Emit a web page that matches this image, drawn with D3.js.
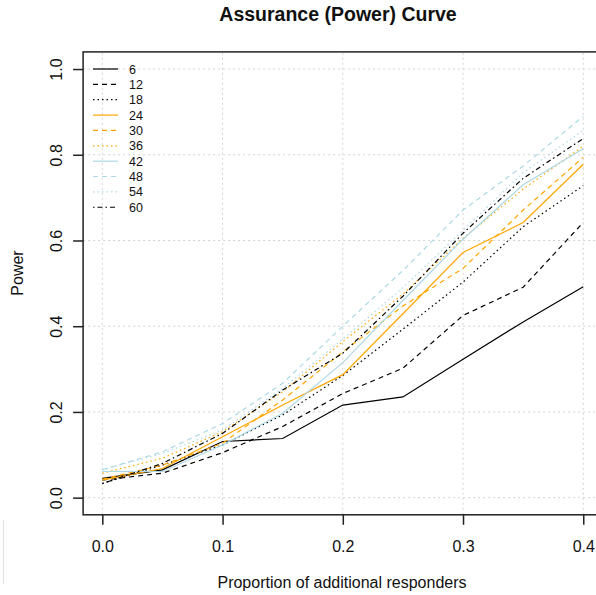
<!DOCTYPE html>
<html>
<head>
<meta charset="utf-8">
<script src="https://cdn.jsdelivr.net/npm/d3@7"></script>
<style>
  html, body { margin: 0; padding: 0; background: #fff; }
  svg { display: block; font-family: "Liberation Sans", Arial, sans-serif; }
</style>
</head>
<body>
<svg id="chart" width="596" height="595"></svg>
<script>
// Proportion of additional responders (x) and power per sample size
const proportions = [0, 0.05, 0.10, 0.15, 0.20, 0.25, 0.30, 0.35, 0.40];
const sampleSizes = ["6", "12", "18", "24", "30", "36", "42", "48", "54", "60"];
const power6  = [0.045, 0.065, 0.131, 0.138, 0.216, 0.235, 0.323, 0.410, 0.492];
const power12 = [0.041, 0.057, 0.105, 0.166, 0.243, 0.302, 0.425, 0.491, 0.642];
const power18 = [0.033, 0.076, 0.123, 0.193, 0.285, 0.393, 0.503, 0.632, 0.728];
const power24 = [0.041, 0.068, 0.142, 0.216, 0.287, 0.429, 0.572, 0.642, 0.778];
const power30 = [0.043, 0.076, 0.127, 0.228, 0.340, 0.447, 0.535, 0.671, 0.794];
const power36 = [0.057, 0.092, 0.154, 0.247, 0.364, 0.475, 0.605, 0.720, 0.820];
const power42 = [0.061, 0.061, 0.123, 0.197, 0.315, 0.460, 0.603, 0.730, 0.814];
const power48 = [0.065, 0.107, 0.173, 0.267, 0.400, 0.530, 0.671, 0.774, 0.890];
const power54 = [0.065, 0.103, 0.158, 0.255, 0.370, 0.490, 0.624, 0.758, 0.857];
const power60 = [0.033, 0.080, 0.150, 0.251, 0.337, 0.470, 0.617, 0.745, 0.838];
const seriesValues = [power6, power12, power18, power24, power30, power36, power42, power48, power54, power60];
const xTicks = [0, 0.1, 0.2, 0.3, 0.4];
const yTicks = [0, 0.2, 0.4, 0.6, 0.8, 1.0];

// Line styles: colour cycles black / orange / lightblue, dash cycles solid / dashed / dotted
const colors = ["#000", "#000", "#000", "#FFA500", "#FFA500", "#FFA500", "#ADD8E6", "#ADD8E6", "#ADD8E6", "#000"];
const dashes = [null, "5,4", "1.5,3", null, "5,4", "1.5,3", null, "5,4", "1.5,3", "1.5,3,5,3"];

const svg = d3.select("#chart");

// Plot region with 4% padding on each axis
const x = d3.scaleLinear().domain([-0.016, 0.416]).range([83.1, 602.5]);
const y = d3.scaleLinear().domain([-0.04, 1.04]).range([514.8, 51.9]);

// Grid
const grid = svg.append("g").attr("stroke", "#d3d3d3").attr("stroke-width", 1).attr("stroke-dasharray", "2,3");
grid.selectAll("line.gx").data(xTicks).join("line")
  .attr("x1", d => x(d)).attr("x2", d => x(d))
  .attr("y1", y.range()[0]).attr("y2", y.range()[1]);
grid.selectAll("line.gy").data(yTicks).join("line")
  .attr("x1", x.range()[0]).attr("x2", x.range()[1])
  .attr("y1", d => y(d)).attr("y2", d => y(d));

// Curves
const line = d3.line().x((d, i) => x(proportions[i])).y(d => y(d));
svg.append("g").selectAll("path").data(seriesValues).join("path")
  .attr("d", d => line(d))
  .attr("fill", "none")
  .attr("stroke", (d, i) => colors[i])
  .attr("stroke-width", 1.2)
  .attr("stroke-dasharray", (d, i) => dashes[i]);

// Box
svg.append("rect")
  .attr("x", x.range()[0]).attr("y", y.range()[1])
  .attr("width", x.range()[1] - x.range()[0])
  .attr("height", y.range()[0] - y.range()[1])
  .attr("fill", "none").attr("stroke", "#222").attr("stroke-width", 1.5);

// Axes
const xAxis = svg.append("g").attr("transform", `translate(0,${y.range()[0]})`)
  .call(d3.axisBottom(x).tickValues(xTicks).tickFormat(d3.format(".1f")).tickSize(10).tickSizeOuter(0).tickPadding(16));
xAxis.select(".domain").remove();
xAxis.selectAll("line").attr("stroke", "#222").attr("stroke-width", 1.5);
xAxis.selectAll("text").attr("font-size", 16).attr("fill", "#111")
  .attr("font-family", "'Liberation Sans', Arial, sans-serif");

const yAxis = svg.append("g").attr("transform", `translate(${x.range()[0]},0)`)
  .call(d3.axisLeft(y).tickValues(yTicks).tickFormat(d3.format(".1f")).tickSize(10).tickSizeOuter(0));
yAxis.select(".domain").remove();
yAxis.selectAll("line").attr("stroke", "#222").attr("stroke-width", 1.5);
yAxis.selectAll("text")
  .attr("font-size", 16).attr("fill", "#111")
  .attr("font-family", "'Liberation Sans', Arial, sans-serif")
  .attr("x", null).attr("dy", null)
  .attr("text-anchor", "middle")
  .attr("transform", "translate(-21.5,0) rotate(-90)");

// Titles
svg.append("text").attr("x", 338).attr("y", 21).attr("text-anchor", "middle")
  .attr("font-size", 19.5).attr("font-weight", "bold").attr("fill", "#111")
  .text("Assurance (Power) Curve");
svg.append("text").attr("x", 342).attr("y", 588).attr("text-anchor", "middle")
  .attr("font-size", 16).attr("fill", "#111")
  .text("Proportion of additional responders");
svg.append("text").attr("transform", "translate(23,273) rotate(-90)").attr("text-anchor", "middle")
  .attr("font-size", 16).attr("fill", "#111")
  .text("Power");

// Legend
const legend = svg.append("g");
const items = legend.selectAll("g").data(sampleSizes).join("g")
  .attr("transform", (d, i) => `translate(0,${69 + i * 15.36})`);
items.append("line").attr("x1", 93).attr("x2", 118).attr("y1", 0).attr("y2", 0)
  .attr("stroke", (d, i) => colors[i]).attr("stroke-width", 1.2)
  .attr("stroke-dasharray", (d, i) => dashes[i]);
items.append("text").attr("x", 129).attr("y", 4.5).attr("font-size", 12.5).attr("fill", "#111")
  .text(d => d);

// Faint vertical rule at the lower-left edge
svg.append("line").attr("x1", 3.5).attr("x2", 3.5).attr("y1", 520).attr("y2", 584)
  .attr("stroke", "#e2e2e2").attr("stroke-width", 1);
</script>
</body>
</html>
